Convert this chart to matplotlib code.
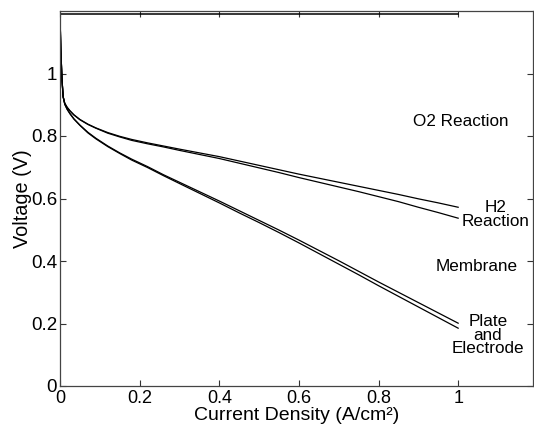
import numpy as np
import matplotlib
matplotlib.use("Agg")
import matplotlib.pyplot as plt

plt.rcParams['font.family'] = ['Liberation Sans', 'DejaVu Sans']

# polarization curve samples (A/cm^2, V)
current = [0, 0.002, 0.005, 0.008, 0.012, 0.018, 0.025, 0.035, 0.05, 0.07, 0.09,
           0.12, 0.15, 0.18, 0.22, 0.26, 0.3, 0.35, 0.4, 0.45, 0.5, 0.55, 0.6,
           0.65, 0.7, 0.75, 0.8, 0.85, 0.9, 0.95, 1.0]
v_o2 = [1.19, 1.08, 0.98, 0.925, 0.905, 0.892, 0.881, 0.868, 0.853, 0.838, 0.826,
        0.811, 0.799, 0.789, 0.778, 0.768, 0.758, 0.746, 0.734, 0.720, 0.706, 0.692,
        0.678, 0.665, 0.652, 0.639, 0.626, 0.613, 0.599, 0.586, 0.572]
v_h2 = [1.19, 1.08, 0.98, 0.925, 0.904, 0.891, 0.880, 0.867, 0.852, 0.837, 0.825,
        0.809, 0.797, 0.786, 0.775, 0.765, 0.754, 0.741, 0.728, 0.713, 0.698, 0.683,
        0.667, 0.652, 0.637, 0.622, 0.606, 0.590, 0.572, 0.555, 0.537]
v_membrane = [1.19, 1.08, 0.98, 0.925, 0.902, 0.886, 0.872, 0.855, 0.835, 0.812, 0.793,
              0.768, 0.746, 0.726, 0.702, 0.676, 0.652, 0.622, 0.592, 0.561, 0.530,
              0.499, 0.467, 0.434, 0.401, 0.367, 0.333, 0.300, 0.267, 0.234, 0.201]
v_plate = [1.19, 1.08, 0.98, 0.925, 0.901, 0.885, 0.871, 0.854, 0.834, 0.810, 0.791,
           0.766, 0.744, 0.723, 0.699, 0.673, 0.648, 0.617, 0.586, 0.554, 0.523,
           0.491, 0.458, 0.424, 0.390, 0.356, 0.321, 0.287, 0.253, 0.219, 0.185]
open_circuit = 1.19
i_max = 1.0

region_labels = ['O2 Reaction', 'H2\nReaction', 'Membrane', 'Plate\nand\nElectrode']
label_x = [1.006, 1.093, 1.047, 1.075]
label_y = [0.847, 0.55, 0.382, 0.163]

fig = plt.figure(figsize=(5.34, 4.30), dpi=100)
ax = fig.add_axes([60 / 534, 44 / 430, 473 / 534, 375 / 430])

ax.plot([0, i_max], [open_circuit, open_circuit], color='black', lw=1.1)
for v in (v_o2, v_h2, v_membrane, v_plate):
    ax.plot(current, v, color='black', lw=0.9)

for txt, x, y in zip(region_labels, label_x, label_y):
    ax.text(x, y, txt, ha='center', va='center', fontsize=12.3, linespacing=0.9)

ax.set_xlim(0, 1.188)
ax.set_ylim(0, 1.2)
ax.set_xticks([0, 0.2, 0.4, 0.6, 0.8, 1])
ax.set_xticklabels(['0', '0.2', '0.4', '0.6', '0.8', '1'])
ax.set_yticks([0, 0.2, 0.4, 0.6, 0.8, 1])
ax.set_yticklabels(['0', '0.2', '0.4', '0.6', '0.8', '1'])
ax.tick_params(direction='in', top=True, right=True, length=4, width=0.8,
               labelsize=13.5, color='#333333')
ax.tick_params(axis='x', pad=3, labelsize=13)
ax.tick_params(axis='y', pad=2)
for s in ax.spines.values():
    s.set_color('#444444')
    s.set_linewidth(0.9)

ax.set_xlabel('Current Density (A/cm\u00b2)', fontsize=14, labelpad=0)
ax.set_ylabel('Voltage (V)', fontsize=14.3, labelpad=-1)

fig.savefig('out.png', dpi=100)
